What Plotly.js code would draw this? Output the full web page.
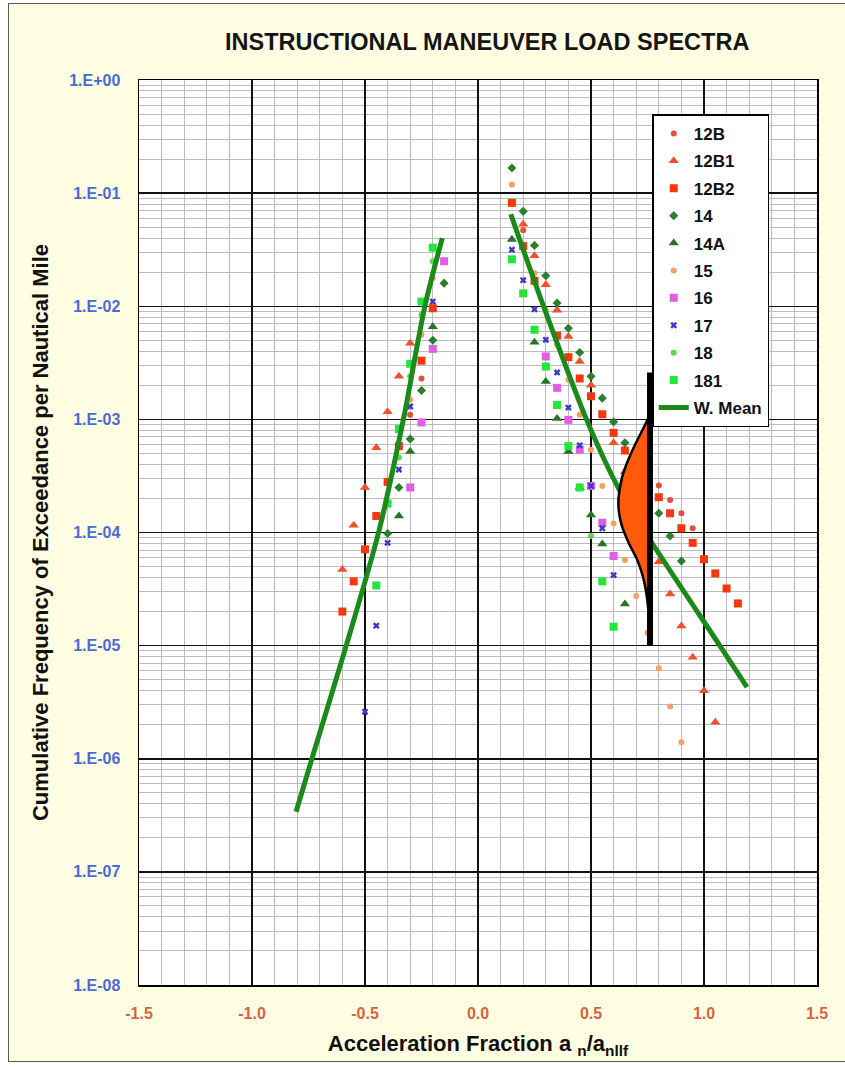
<!DOCTYPE html>
<html>
<head>
<meta charset="utf-8">
<script src="https://cdn.plot.ly/plotly-3.0.1.min.js"></script>
<style>
  html, body { margin:0; padding:0; background:#ffffff; overflow:hidden; width:845px; height:1067px; }
  #frame { position:absolute; left:8px; top:3px; width:850px; height:1057px; border:1.5px solid #5a5a5a; background:#fffde2; }
  #chart { position:absolute; left:0; top:0; width:836px; height:1056px; }
</style>
</head>
<body>
<div id="frame"><div id="chart"></div></div>
<script>
// ---- data ----
const x12B  = [-0.25,-0.30, 0.20,0.80,0.85,0.90,0.95];
const y12B  = [2.3e-3,1.1e-3, 4.7e-2,2.6e-4,1.94e-4,1.48e-4,1.09e-4];

const x12B1 = [-0.30,-0.35,-0.40,-0.45,-0.50,-0.55,-0.60, 0.20,0.25,0.30,0.35,0.40,0.45,0.50,0.60,0.65,0.80,0.85,0.90,0.95,1.00,1.05];
const y12B1 = [4.7e-3,2.4e-3,1.17e-3,5.6e-4,2.5e-4,1.16e-4,4.7e-5, 5.3e-2,2.8e-2,1.55e-2,9.2e-3,5.4e-3,3.25e-3,2.0e-3,6.2e-4,3.45e-4,5.5e-5,2.86e-5,1.49e-5,7.9e-6,4.0e-6,2.1e-6];

const x12B2 = [-0.20,-0.25,-0.35,-0.40,-0.45,-0.50,-0.55,-0.60, 0.15,0.20,0.25,0.35,0.40,0.45,0.50,0.55,0.60,0.65,0.80,0.85,0.90,0.95,1.00,1.05,1.10,1.15];
const y12B2 = [9.6e-3,3.3e-3,5.8e-4,2.8e-4,1.4e-4,7.1e-5,3.7e-5,2.0e-5, 8.2e-2,3.4e-2,1.68e-2,5.5e-3,3.55e-3,2.3e-3,1.6e-3,1.11e-3,7.6e-4,5.3e-4,2.05e-4,1.48e-4,1.09e-4,8.1e-5,5.8e-5,4.35e-5,3.2e-5,2.36e-5];

const x14  = [-0.15,-0.20,-0.25,-0.30,-0.35,-0.40, 0.15,0.20,0.25,0.30,0.35,0.40,0.45,0.50,0.55,0.60,0.65,0.80,0.85,0.90];
const y14  = [1.6e-2,5.0e-3,1.8e-3,6.7e-4,2.5e-4,9.8e-5, 1.67e-1,6.9e-2,3.45e-2,1.86e-2,1.07e-2,6.4e-3,3.9e-3,2.4e-3,1.54e-3,9.5e-4,6.2e-4,1.48e-4,9.3e-5,5.6e-5];

const x14A = [-0.20,-0.30,-0.35, 0.15,0.25,0.30,0.35,0.40,0.45,0.50,0.55,0.65];
const y14A = [6.6e-3,5.2e-4,1.4e-4, 3.9e-2,4.8e-3,2.16e-3,1.02e-3,5.2e-4,2.5e-4,1.43e-4,7.9e-5,2.33e-5];

const x15  = [-0.20,-0.25,-0.30, 0.15,0.25,0.30,0.35,0.40,0.45,0.50,0.55,0.60,0.65,0.70,0.75,0.80,0.85,0.90];
const y15  = [1.78e-2,5.6e-3,1.5e-3, 1.19e-1,1.97e-2,9.3e-3,4.56e-3,2.24e-3,1.1e-3,5.4e-4,2.58e-4,1.2e-4,5.7e-5,2.74e-5,1.3e-5,6.3e-6,2.9e-6,1.4e-6];

const x16  = [-0.15,-0.20,-0.25,-0.30, 0.30,0.35,0.40,0.45,0.50,0.55,0.60];
const y16  = [2.5e-2,4.2e-3,9.4e-4,2.5e-4, 3.6e-3,1.9e-3,9.9e-4,5.4e-4,2.58e-4,1.22e-4,6.2e-5];

const x17  = [-0.20,-0.30,-0.35,-0.40,-0.45,-0.50, 0.15,0.20,0.25,0.30,0.35,0.40,0.45,0.50,0.55,0.60];
const y17  = [1.1e-2,1.3e-3,3.6e-4,8.1e-5,1.5e-5,2.6e-6, 3.16e-2,1.7e-2,9.4e-3,5.05e-3,2.6e-3,1.27e-3,5.9e-4,2.58e-4,1.09e-4,4.2e-5];

const x18  = [-0.20,-0.25,-0.30,-0.35, 0.50];
const y18  = [2.5e-2,8.4e-3,2.4e-3,4.6e-4, 9.3e-5];

const x181 = [-0.20,-0.25,-0.30,-0.35,-0.40,-0.45, 0.15,0.20,0.25,0.30,0.35,0.40,0.45,0.55,0.60];
const y181 = [3.3e-2,1.1e-2,3.1e-3,8.2e-4,1.8e-4,3.4e-5, 2.6e-2,1.3e-2,6.2e-3,2.93e-3,1.34e-3,5.8e-4,2.5e-4,3.7e-5,1.47e-5];

// weighted-mean curves (two branches)
const meanLX = [-0.805,-0.735,-0.583,-0.44,-0.33,-0.235,-0.158];
const meanLY = [3.4e-7,1e-6,1e-5,1e-4,1e-3,1e-2,4.0e-2];
const meanRX = [0.145,0.29,0.48,0.62,0.74,1.07,1.19];
const meanRY = [6.5e-2,1.0e-2,1.0e-3,2.5e-4,1.0e-4,1.0e-5,4.3e-6];

// distribution sketch (bell) and its baseline bar
const bellX = [0.761,0.735,0.698,0.665,0.638,0.624,0.621,0.627,0.638,0.668,0.705,0.730,0.745,0.754,0.760,0.761];
const bellY = [1.10e-3,8.6e-4,6.15e-4,4.4e-4,3.1e-4,2.2e-4,1.8e-4,1.38e-4,1.12e-4,8.0e-5,5.7e-5,4.06e-5,2.9e-5,2.06e-5,1.47e-5,1.2e-5];
const barX = [0.761,0.761];
const barY = [2.6e-3,9.9e-6];

// axis ticks
const xTickVals = [-1.5,-1.0,-0.5,0.0,0.5,1.0,1.5];
const xTickText = ['-1.5','-1.0','-0.5','0.0','0.5','1.0','1.5'];
const yTickVals = [1e-8,1e-7,1e-6,1e-5,1e-4,1e-3,1e-2,1e-1,1];
const yTickText = ['1.E-08','1.E-07','1.E-06','1.E-05','1.E-04','1.E-03','1.E-02','1.E-01','1.E+00'];

const seriesNames = ['12B','12B1','12B2','14','14A','15','16','17','18','181'];
const seriesX = [x12B,x12B1,x12B2,x14,x14A,x15,x16,x17,x18,x181];
const seriesY = [y12B,y12B1,y12B2,y14,y14A,y15,y16,y17,y18,y181];
const seriesSymbol = ['circle','triangle-up','square','diamond','triangle-up','circle','square','x','circle','square'];
const seriesSize = [6,9,8,7,9,6,8,6,6,8];
const seriesColor = ['#e4503e','#f0502c','#f2380f','#2f7d2f','#267526','#f2a066','#e05ee4','#3a3ac4','#5fd84c','#25e43a'];

// ---- build ----
const FONT = 'Liberation Sans, Arial, sans-serif';
const traces = [];
for (let i = 0; i < seriesNames.length; i++) {
  traces.push({
    type:'scatter', mode:'markers', name: seriesNames[i],
    x: seriesX[i], y: seriesY[i], legendgroup: 'g'+i,
    marker: {symbol: seriesSymbol[i], size: seriesSize[i], color: seriesColor[i], line:{width:0}}
  });
}
traces.push({
  type:'scatter', mode:'lines', name:'W. Mean', legendgroup:'gm',
  x: meanLX.concat([null], meanRX), y: meanLY.concat([null], meanRY),
  connectgaps:false,
  line:{color:'#1b8a1b', width:5, shape:'spline', smoothing:0.8}
});
traces.push({
  type:'scatter', mode:'lines', showlegend:false, hoverinfo:'skip',
  x: bellX, y: bellY, fill:'toself', fillcolor:'#ff5a0a',
  line:{color:'#000', width:2.5, shape:'spline', smoothing:0.6}
});
traces.push({
  type:'scatter', mode:'lines', showlegend:false, hoverinfo:'skip',
  x: barX, y: barY, line:{color:'#000', width:6}
});

const minorY = [];
for (let e = -8; e < 0; e++) for (let k = 2; k <= 9; k++) minorY.push(k*Math.pow(10,e));

const layout = {
  width:836, height:1056,
  margin:{l:130, r:28, t:76, b:75},
  paper_bgcolor:'rgba(0,0,0,0)', plot_bgcolor:'#ffffff',
  showlegend:true,
  title:{text:'INSTRUCTIONAL MANEUVER LOAD SPECTRA', xref:'container', x:0.572, xanchor:'center',
         yref:'container', y:0.9645, yanchor:'middle',
         font:{family:FONT, size:23.5, weight:'bold', color:'#151515'}},
  xaxis:{
    type:'linear', range:[-1.5,1.5], tickmode:'array', tickvals:xTickVals, ticktext:xTickText,
    showgrid:true, gridcolor:'#111', gridwidth:1.5, zeroline:false,
    showline:true, mirror:true, linecolor:'#000', linewidth:1.5, ticks:'',
    ticklabelstandoff:13,
    tickfont:{family:FONT, size:16, weight:'bold', color:'#d8643e'},
    minor:{tick0:0, dtick:0.1, showgrid:true, gridcolor:'#bcbcbc', gridwidth:1, ticks:''},
    title:{text:'Acceleration Fraction a <sub>n</sub>/a<sub>nllf</sub>', standoff:15,
           font:{family:FONT, size:22, weight:'bold', color:'#111'}}
  },
  yaxis:{
    type:'log', range:[-8,0], tickmode:'array', tickvals:yTickVals, ticktext:yTickText,
    showgrid:true, gridcolor:'#111', gridwidth:1.5, zeroline:false,
    showline:true, mirror:true, linecolor:'#000', linewidth:1.5, ticks:'',
    ticklabelstandoff:14,
    tickfont:{family:FONT, size:16, weight:'bold', color:'#4a6cd2'},
    minor:{tickmode:'array', tickvals:minorY, showgrid:true, gridcolor:'#bcbcbc', gridwidth:1, ticks:''},
    title:{text:'Cumulative Frequency of Exceedance per Nautical Mile', standoff:14,
           font:{family:FONT, size:22, weight:'bold', color:'#111'}}
  },
  legend:{
    x:0.757, xanchor:'left', y:0.962, yanchor:'top',
    bgcolor:'#ffffff', bordercolor:'#000', borderwidth:1.5,
    font:{family:FONT, size:17, weight:'bold', color:'#111'},
    tracegroupgap:2.3, itemwidth:30
  }
};

Plotly.newPlot('chart', traces, layout, {staticPlot:true, displayModeBar:false});
</script>
</body>
</html>
